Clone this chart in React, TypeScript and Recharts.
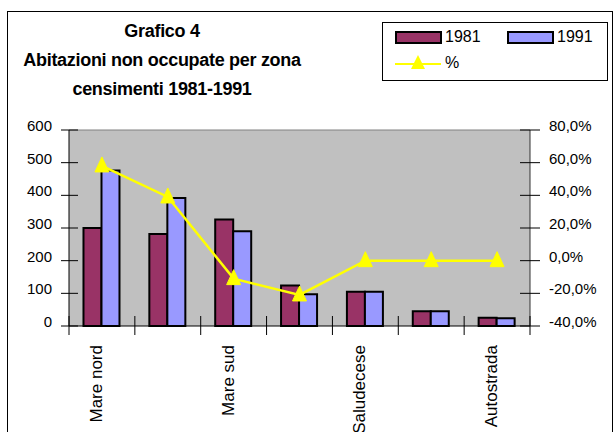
import React from 'react';
import {
  Bar,
  CartesianGrid,
  ComposedChart,
  Line,
  ReferenceLine,
  XAxis,
  YAxis,
} from 'recharts';

// only every other zone name is printed in the source; the hidden ones are placeholders
const zones = ['Mare nord', 'Zona 2', 'Mare sud', 'Zona 4', 'Saludecese', 'Zona 6', 'Autostrada'];
const v1981 = [300, 282, 326, 124, 105, 45, 25];
const v1991 = [476, 392, 290, 97, 105, 45, 24];
const pct = [58, 39, -11, -21, 0, 0, 0];
const leftTicks = [0, 100, 200, 300, 400, 500, 600];
const rightTicks = [-40, -20, 0, 20, 40, 60, 80];
const titleLines = ['Grafico 4', 'Abitazioni non occupate per zona', 'censimenti 1981-1991'];

const data = zones.map((zona, i) => ({
  zona,
  y1981: v1981[i],
  y1991: v1991[i],
  pct: pct[i],
}));

const FONT = '"Liberation Sans", Arial, sans-serif';
const C1981 = '#993366';
const C1991 = '#9999FF';
const YELLOW = '#FFFF00';

const fmtPct = (v: number) => `${v.toFixed(1).replace('.', ',')}%`;

function LeftTick(props: any) {
  const { x, y, payload } = props;
  return (
    <g>
      <line x1={x + 9} x2={x + 26} y1={y} y2={y} stroke="#000" />
      <text x={x} y={y + 1} textAnchor="end" fontSize={15} fontFamily={FONT} fill="#000">
        {payload.value}
      </text>
    </g>
  );
}

function RightTick(props: any) {
  const { x, y, payload } = props;
  return (
    <g>
      <line x1={x - 29} x2={x - 9} y1={y} y2={y} stroke="#000" />
      <text x={x} y={y + 1} textAnchor="start" fontSize={15} fontFamily={FONT} fill="#000">
        {fmtPct(payload.value)}
      </text>
    </g>
  );
}

function ZoneTick(props: any) {
  const { x, y, payload, index, visibleTicksCount } = props;
  const half = payload.offset || 33;
  const ly = y + 19;
  return (
    <g>
      <line x1={x - half} x2={x - half} y1={y - 10} y2={y + 9} stroke="#000" />
      {index === visibleTicksCount - 1 && (
        <line x1={x + half} x2={x + half} y1={y - 10} y2={y + 9} stroke="#000" />
      )}
      {index % 2 === 0 && (
        <text
          x={x}
          y={ly}
          transform={`rotate(-90, ${x}, ${ly})`}
          textAnchor="end"
          fontSize={17}
          fontFamily={FONT}
          fill="#000"
        >
          {payload.value}
        </text>
      )}
    </g>
  );
}

function Triangle(props: any) {
  const { cx, cy } = props;
  if (cx == null || cy == null) return null;
  return (
    <polygon
      points={`${cx},${cy - 9} ${cx - 7},${cy + 6} ${cx + 7},${cy + 6}`}
      fill={YELLOW}
      stroke={YELLOW}
    />
  );
}

function Swatch({ color }: { color: string }) {
  return (
    <div
      style={{
        width: 43,
        height: 9,
        background: color,
        border: '2px solid #000',
      }}
    />
  );
}

export default function App() {
  return (
    <div
      style={{
        position: 'absolute',
        left: 0,
        top: 0,
        width: 613,
        height: 432,
        overflow: 'hidden',
        background: '#fff',
        fontFamily: FONT,
      }}
    >
      <div
        style={{
          position: 'absolute',
          left: 7,
          top: 11,
          width: 604,
          height: 440,
          border: '1px solid #000',
        }}
      />
      <div
        style={{
          position: 'absolute',
          left: 12,
          top: 17,
          width: 300,
          textAlign: 'center',
          fontWeight: 'bold',
          fontSize: 18,
          lineHeight: '29px',
          letterSpacing: -0.3,
          color: '#000',
        }}
      >
        {titleLines.map((t) => (
          <div key={t} style={{ whiteSpace: 'nowrap' }}>
            {t}
          </div>
        ))}
      </div>

      <div
        style={{
          position: 'absolute',
          left: 382,
          top: 22,
          width: 224,
          height: 57,
          border: '1px solid #000',
          fontSize: 16,
          color: '#000',
        }}
      >
        <div style={{ position: 'absolute', left: 12, top: 8 }}>
          <Swatch color={C1981} />
        </div>
        <div style={{ position: 'absolute', left: 62, top: 4, lineHeight: '20px' }}>1981</div>
        <div style={{ position: 'absolute', left: 124, top: 8 }}>
          <Swatch color={C1991} />
        </div>
        <div style={{ position: 'absolute', left: 174, top: 4, lineHeight: '20px' }}>1991</div>
        <svg style={{ position: 'absolute', left: 11, top: 28 }} width={48} height={20}>
          <line x1={1} x2={47} y1={13} y2={13} stroke={YELLOW} strokeWidth={2} />
          <polygon points="24,4 17,18 31,18" fill={YELLOW} />
        </svg>
        <div style={{ position: 'absolute', left: 62, top: 30, lineHeight: '20px' }}>%</div>
      </div>

      <div style={{ position: 'absolute', left: 0, top: 0 }}>
        <ComposedChart
          width={613}
          height={432}
          data={data}
          margin={{ top: 130, right: 13, bottom: 6, left: 9 }}
          barCategoryGap="22%"
          barGap={0}
        >
          <CartesianGrid horizontal={false} vertical={false} fill="#C0C0C0" />
          <XAxis
            dataKey="zona"
            interval={0}
            height={100}
            tickSize={0}
            tickMargin={0}
            tickLine={false}
            axisLine={{ stroke: '#000' }}
            tick={<ZoneTick />}
          />
          <YAxis
            yAxisId="left"
            width={60}
            domain={[0, 600]}
            ticks={leftTicks}
            tickSize={8}
            tickMargin={9}
            tickLine={false}
            axisLine={{ stroke: '#000' }}
            tick={<LeftTick />}
          />
          <YAxis
            yAxisId="right"
            orientation="right"
            width={70}
            domain={[-40, 80]}
            ticks={rightTicks}
            tickSize={10}
            tickMargin={9}
            tickLine={false}
            axisLine={{ stroke: '#333' }}
            tick={<RightTick />}
          />
          <ReferenceLine yAxisId="left" y={600} stroke="#808080" />
          <Bar
            yAxisId="left"
            dataKey="y1981"
            fill={C1981}
            stroke="#000"
            strokeWidth={2}
            isAnimationActive={false}
          />
          <Bar
            yAxisId="left"
            dataKey="y1991"
            fill={C1991}
            stroke="#000"
            strokeWidth={2}
            isAnimationActive={false}
          />
          <Line
            yAxisId="right"
            dataKey="pct"
            stroke={YELLOW}
            strokeWidth={2.5}
            dot={<Triangle />}
            activeDot={false}
            isAnimationActive={false}
          />
        </ComposedChart>
      </div>
    </div>
  );
}
